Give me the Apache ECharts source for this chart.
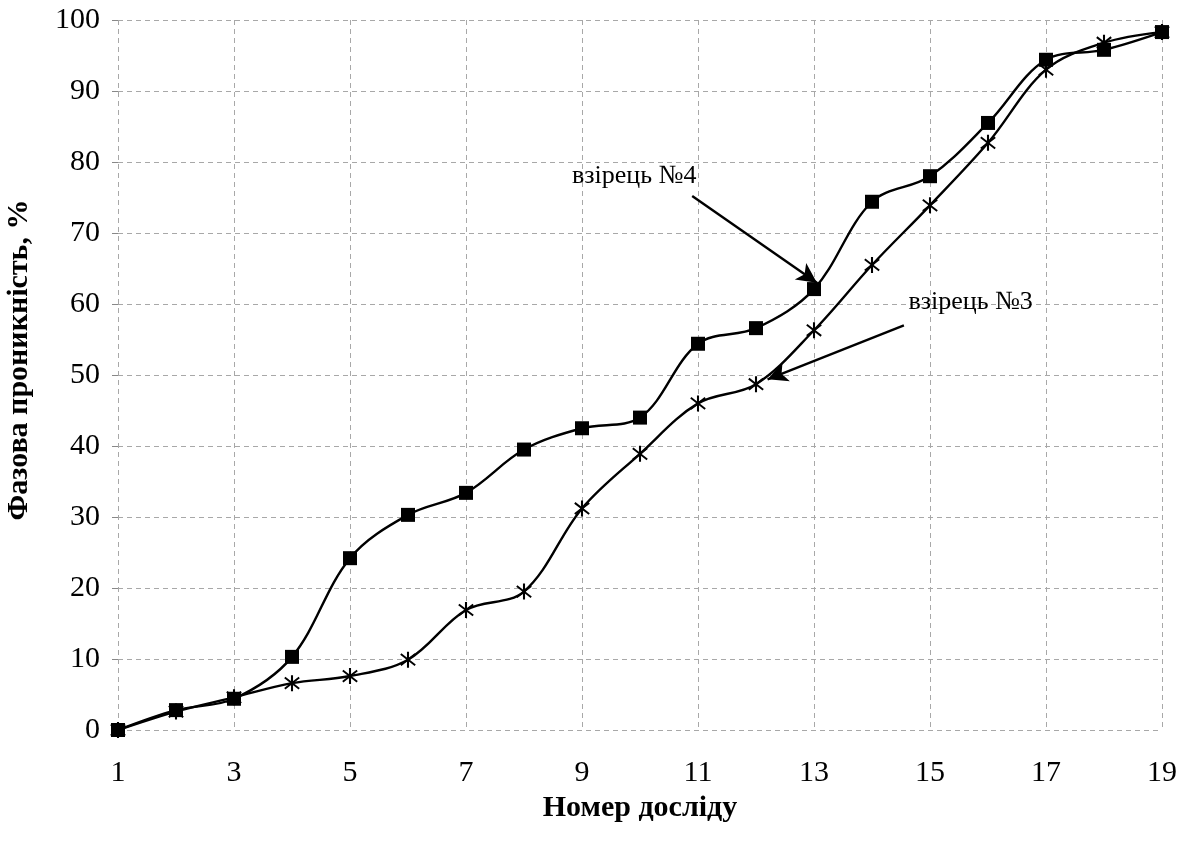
<!DOCTYPE html>
<html>
<head>
<meta charset="utf-8">
<script src="https://cdn.jsdelivr.net/npm/echarts@6/dist/echarts.min.js"></script>
<style>
  html, body { margin: 0; padding: 0; background: #fff; }
  #chart { width: 1185px; height: 850px; }
</style>
</head>
<body>
<div id="chart"></div>
<script>
// ---- data ----
const categories = ['1','2','3','4','5','6','7','8','9','10','11','12','13','14','15','16','17','18','19'];
const sample4 = [0, 2.8, 4.4, 10.3, 24.2, 30.3, 33.4, 39.5, 42.5, 44.0, 54.4, 56.6, 62.1, 74.4, 78.0, 85.5, 94.4, 95.8, 98.3];
const sample3 = [0, 2.6, 4.6, 6.6, 7.6, 9.9, 16.9, 19.5, 31.2, 38.9, 46.0, 48.7, 56.3, 65.5, 73.9, 82.7, 93.0, 96.8, 98.3];
const seriesNames = ['взірець №4', 'взірець №3'];
const xTitle = 'Номер досліду';
const yTitle = 'Фазова проникність, %';
// annotation anchors in data space: [x index (0-based), value]
const label4At = [8.9, 78.0];
const arrow4From = [9.9, 75.2];
const arrow4To = [12.05, 63.0];
const label3At = [14.7, 60.3];
const arrow3From = [13.55, 57.0];
const arrow3To = [11.2, 49.4];

const FONT = '"Liberation Serif", "Times New Roman", serif';

const asterisk = 'path://M8.7,0 L11.3,0 L11.3,20 L8.7,20 Z ' +
  'M1.737,2.053 L19.737,16.053 L18.263,17.947 L0.263,3.947 Z ' +
  'M0.263,16.053 L18.263,2.053 L19.737,3.947 L1.737,17.947 Z';

const toPairs = arr => arr.map((v, i) => [i, v]);

const chart = echarts.init(document.getElementById('chart'), null, { renderer: 'canvas' });

const gridLine = { show: true, lineStyle: { color: '#a8a8a8', type: [5, 4], width: 1 } };

chart.setOption({
  backgroundColor: '#ffffff',
  animation: false,
  grid: { left: 118, right: 23, top: 20, bottom: 120, containLabel: false, outerBoundsMode: 'none' },
  xAxis: {
    type: 'value',
    min: 0, max: 18, interval: 2,
    name: xTitle,
    nameLocation: 'middle',
    nameGap: 60,
    nameTextStyle: { fontFamily: FONT, fontSize: 30, fontWeight: 'bold', color: '#000' },
    axisLine: { show: false },
    axisTick: { show: false },
    splitLine: gridLine,
    axisLabel: {
      margin: 28,
      fontFamily: FONT, fontSize: 30, color: '#000',
      formatter: v => categories[Math.round(v)]
    }
  },
  yAxis: {
    type: 'value',
    min: 0, max: 100, interval: 10,
    name: yTitle,
    nameLocation: 'middle',
    nameGap: 84,
    nameTextStyle: { fontFamily: FONT, fontSize: 30, fontWeight: 'bold', color: '#000', padding: [0, 0, 0, 30] },
    axisLine: { show: false },
    axisTick: { show: true, length: 6, lineStyle: { color: '#888' } },
    splitLine: gridLine,
    axisLabel: { margin: 18, fontFamily: FONT, fontSize: 30, color: '#000' }
  },
  series: [
    {
      name: seriesNames[0],
      type: 'line',
      data: toPairs(sample4),
      smooth: 0.35,
      symbol: 'rect',
      symbolSize: 14,
      itemStyle: { color: '#000' },
      lineStyle: { color: '#000', width: 2.4 },
      z: 3,
      markLine: {
        silent: true,
        symbol: ['none', 'arrow'],
        symbolSize: [15, 20],
        lineStyle: { color: '#000', width: 2.4, type: 'solid' },
        label: { show: false },
        data: [[{ coord: arrow4From }, { coord: arrow4To }]]
      },
      markPoint: {
        silent: true,
        symbol: 'rect', symbolSize: 1,
        itemStyle: { color: 'rgba(0,0,0,0)' },
        label: { show: true, position: 'inside', fontFamily: FONT, fontSize: 26, color: '#000', formatter: seriesNames[0] },
        data: [{ coord: label4At }]
      }
    },
    {
      name: seriesNames[1],
      type: 'line',
      data: toPairs(sample3),
      smooth: 0.35,
      symbol: asterisk,
      symbolSize: 16,
      symbolKeepAspect: true,
      itemStyle: { color: '#000' },
      lineStyle: { color: '#000', width: 2.4 },
      z: 3,
      markLine: {
        silent: true,
        symbol: ['none', 'arrow'],
        symbolSize: [15, 20],
        lineStyle: { color: '#000', width: 2.4, type: 'solid' },
        label: { show: false },
        data: [[{ coord: arrow3From }, { coord: arrow3To }]]
      },
      markPoint: {
        silent: true,
        symbol: 'rect', symbolSize: 1,
        itemStyle: { color: 'rgba(0,0,0,0)' },
        label: { show: true, position: 'inside', fontFamily: FONT, fontSize: 26, color: '#000', formatter: seriesNames[1] },
        data: [{ coord: label3At }]
      }
    }
  ]
});
</script>
</body>
</html>
